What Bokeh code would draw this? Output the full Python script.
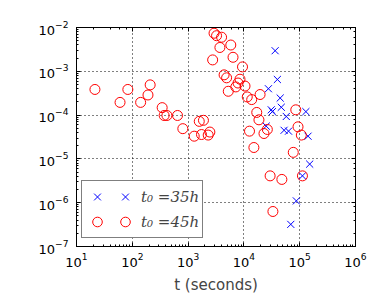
from bokeh.plotting import figure
from bokeh.models import LogAxis, Legend, LegendItem, Range1d
from bokeh.embed import file_html
from bokeh.resources import INLINE

# t0 = 45h (red circles)
t45 = [21.4, 60.3, 83.2, 141, 191, 209, 343, 372, 417, 646, 804, 1288, 1585, 1884,
       1738, 2291, 2455, 2754, 2917, 3236, 3981, 3715, 5821, 6383, 9441, 4416, 4898,
       8511, 7852, 7161, 10470, 5248, 11480, 13800, 19500, 17000, 18600, 26300, 22900,
       12600, 15100, 85100, 93300, 107000, 76700, 29500, 47900, 112000, 33100]
a45 = [3.85e-4, 1.95e-4, 3.85e-4, 1.95e-4, 2.88e-4, 4.9e-4, 1.48e-4, 9.8e-5, 9.8e-5,
       9.8e-5, 4.9e-5, 3.3e-5, 7.2e-5, 7.6e-5, 3.6e-5, 3.5e-5, 4.1e-5, 1.82e-3, 7.4e-3,
       6.5e-3, 6.0e-3, 3.5e-3, 3.98e-3, 2.09e-3, 1.26e-3, 8.3e-4, 7.1e-4, 6.6e-4, 5.4e-4,
       4.4e-4, 4.6e-4, 3.5e-4, 2.6e-4, 2.26e-4, 2.95e-4, 1.15e-4, 7.8e-5, 4.7e-5, 3.8e-5,
       4.3e-5, 1.82e-5, 1.32e-4, 5.4e-5, 3.5e-5, 1.41e-5, 4.1e-6, 3.4e-6, 4.1e-6, 6.3e-7]

# t0 = 35h (blue crosses)
t35 = [36300, 39800, 27500, 44700, 46800, 30900, 32400, 57500, 129000, 25100, 52500,
       63100, 141000, 151000, 112000, 87100, 69200]
a35 = [2.95e-3, 6.5e-4, 4.0e-4, 2.45e-4, 1.51e-4, 1.32e-4, 1.2e-4, 9.3e-5, 1.2e-4,
       5.6e-5, 4.5e-5, 4.3e-5, 3.3e-5, 7.6e-6, 4.1e-6, 1.1e-6, 3.2e-7]

labels = ["t\u2080 =35h", "t\u2080 =45h"]

p = figure(width=368, height=296, x_axis_type="log", y_axis_type="log",
           x_range=Range1d(10, 1e6), y_range=Range1d(1e-7, 1e-2),
           output_backend="svg", toolbar_location=None,
           min_border_left=76, min_border_right=13, min_border_top=27,
           min_border_bottom=45)

p.background_fill_color = "white"
p.outline_line_color = "black"
p.outline_line_width = 1

rb = p.scatter(t35, a35, marker="x", size=10, line_color="#0000ff", line_width=1)
rr = p.scatter(t45, a45, marker="circle", size=10, fill_color=None,
               line_color="#ff0000", line_width=1)

for ax in [p.xaxis[0], p.yaxis[0]]:
    ax.major_tick_in = 4
    ax.major_tick_out = 0
    ax.minor_tick_in = 2
    ax.minor_tick_out = 0
    ax.axis_line_color = "black"
    ax.major_tick_line_color = "black"
    ax.minor_tick_line_color = "black"
    ax.major_label_text_font = "DejaVu Sans"
    ax.major_label_text_font_size = "13px"
    ax.major_label_text_color = "black"

p.xaxis[0].axis_label = "t (seconds)"
p.xaxis[0].axis_label_text_font = "DejaVu Sans"
p.xaxis[0].axis_label_text_font_size = "15px"
p.xaxis[0].axis_label_text_font_style = "normal"
p.xaxis[0].axis_label_standoff = 6
p.xaxis[0].major_label_standoff = 6
p.yaxis[0].major_label_standoff = 8

for loc in ["above", "right"]:
    ax = LogAxis()
    ax.major_tick_in = 4
    ax.major_tick_out = 0
    ax.minor_tick_in = 2
    ax.minor_tick_out = 0
    ax.axis_line_color = "black"
    ax.major_label_text_font_size = "1px"
    ax.major_label_text_alpha = 0
    ax.major_label_standoff = 0
    p.add_layout(ax, loc)

p.xgrid.grid_line_color = "black"
p.ygrid.grid_line_color = "black"
p.xgrid.grid_line_dash = "1 3"
p.ygrid.grid_line_dash = "1 3"
p.xgrid.grid_line_width = 1
p.ygrid.grid_line_width = 1

legend = Legend(items=[
    LegendItem(label="", renderers=[rb]),
    LegendItem(label=labels[0], renderers=[rb]),
    LegendItem(label="", renderers=[rr]),
    LegendItem(label=labels[1], renderers=[rr]),
], ncols=2, orientation="horizontal", location=(5, 8), margin=0, padding=3,
    spacing=0, glyph_width=24, glyph_height=25, label_standoff=4, label_width=0,
    label_height=20, label_text_font="DejaVu Serif", label_text_font_style="italic",
    label_text_font_size="15px", border_line_color="black", border_line_width=1,
    background_fill_alpha=1)
p.add_layout(legend, "center")

open("out.html", "w").write(file_html(p, INLINE))
